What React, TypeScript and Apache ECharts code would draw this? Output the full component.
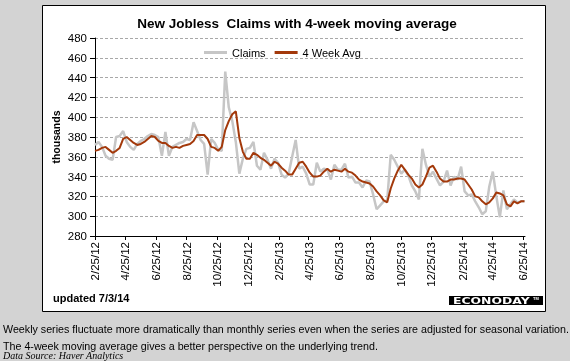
import React, { useEffect, useRef } from 'react';
import * as echarts from 'echarts';

// Weekly initial jobless claims (thousands), weeks ending 2/25/12 .. 6/28/14
const claims = [
  372, 375, 370, 361, 358, 357, 380, 381, 386, 375,
  370, 367, 373, 376, 378, 381, 383, 382, 380, 361,
  385, 361, 370, 372, 374, 375, 378, 377, 395, 386,
  377, 373, 342, 378, 374, 367, 366, 446, 410, 396,
  375, 343, 358, 368, 369, 375, 351, 347, 364, 357,
  348, 358, 354, 342, 339, 343, 360, 377, 348, 350,
  343, 332, 332, 354, 345, 348, 347, 337, 352, 347,
  347, 353, 339, 340, 334, 334, 329, 336, 335, 322,
  307, 311, 315, 316, 362, 357, 350, 343, 347, 341,
  331, 325, 317, 368, 352, 340, 345, 338, 331, 335,
  346, 331, 340, 337, 350, 325, 321, 322, 315, 309,
  302, 305, 330, 345, 320, 299, 326, 307, 312, 317,
  314, 315, 315,
];

// 4-week moving average (thousands), same weeks
const avg4 = [
  366, 367, 369, 370, 367, 364, 366, 369, 378, 380,
  377, 374, 372, 373, 375, 378, 381, 380, 376, 374,
  374, 371, 369, 370, 369, 371, 372, 373, 376, 382,
  382, 382, 378, 370, 369, 366, 370, 387, 396, 403,
  406, 379, 365, 358, 358, 364, 362, 359, 357, 354,
  351, 355, 353, 349, 346, 342, 342, 348, 354, 355,
  350, 344, 340, 340, 341, 345, 348, 345, 347, 346,
  345, 348, 345, 344, 341, 337, 335, 334, 333, 330,
  325, 321, 316, 314, 328, 338, 346, 352, 347, 342,
  338, 332, 329, 332, 340, 349, 351, 345, 338, 335,
  335, 337, 337, 338, 338, 337, 332, 327, 320, 319,
  315, 312, 314, 318, 324, 323, 321, 312, 310, 315,
  313, 315, 315,
];

const tickLabels = [
  '2/25/12', '4/25/12', '6/25/12', '8/25/12', '10/25/12', '12/25/12',
  '2/25/13', '4/25/13', '6/25/13', '8/25/13', '10/25/13', '12/25/13',
  '2/25/14', '4/25/14', '6/25/14',
];

const yTicks = { min: 280, max: 480, step: 20 };
const seriesNames = ['Claims', '4 Week Avg'];
const firstWeek = '2/25/12';
const axisEnd = '6/29/14';

const FONT = 'Liberation Sans, Arial, sans-serif';
const DAY = 86400000;

function parseMDY(s: string): number {
  const [m, d, y] = s.split('/').map(Number);
  return Date.UTC(2000 + y, m - 1, d) / DAY; // day number
}

export default function App() {
  const ref = useRef<HTMLDivElement>(null);

  useEffect(() => {
    if (!ref.current) return;
    const chart = echarts.init(ref.current, null, { renderer: 'svg' });

    const [sm, sd, sy] = firstWeek.split('/').map(Number);
    const weekDay = claims.map((_, i) => Date.UTC(2000 + sy, sm - 1, sd + 7 * i) / DAY);
    const tickDay = tickLabels.map(parseMDY);

    const option: any = {
      animation: false,
      backgroundColor: 'transparent',
      grid: {
        left: 95,
        right: 45,
        top: 38,
        bottom: 125,
        containLabel: false,
        outerBoundsMode: 'none',
      },
      legend: {
        data: seriesNames,
        left: 199,
        top: 42,
        icon: 'rect',
        itemWidth: 23,
        itemHeight: 3,
        itemGap: 9,
        textStyle: { fontFamily: FONT, fontSize: 11, color: '#000' },
      },
      xAxis: {
        type: 'value',
        min: parseMDY(firstWeek),
        max: parseMDY(axisEnd),
        axisLine: { show: true, onZero: false, lineStyle: { color: '#000', width: 1 } },
        axisTick: { show: true, length: 4, customValues: tickDay, lineStyle: { color: '#000' } },
        axisLabel: {
          customValues: tickDay,
          rotate: 90,
          margin: 6,
          color: '#000',
          fontFamily: FONT,
          fontSize: 11.5,
          showMinLabel: true,
          showMaxLabel: true,
          formatter: (v: number) => {
            const k = tickDay.findIndex((t) => Math.abs(t - v) < 0.01);
            return k >= 0 ? tickLabels[k] : '';
          },
        },
        splitLine: { show: false },
      },
      yAxis: {
        type: 'value',
        min: yTicks.min,
        max: yTicks.max,
        interval: yTicks.step,
        name: 'thousands',
        nameLocation: 'middle',
        nameGap: 34,
        nameMoveOverlap: false,
        nameTextStyle: { fontFamily: FONT, fontSize: 10.5, fontWeight: 'bold', color: '#000' },
        axisLine: { show: true, lineStyle: { color: '#000', width: 1 } },
        axisTick: { show: true, length: 5, lineStyle: { color: '#000' } },
        axisLabel: { color: '#000', fontFamily: FONT, fontSize: 11.5, margin: 8 },
        splitLine: { show: true, lineStyle: { color: '#a8a8a8', type: [3, 2], width: 1 } },
      },
      series: [
        {
          name: seriesNames[0],
          type: 'line',
          data: weekDay.map((t, i) => [t, claims[i]]),
          showSymbol: false,
          symbol: 'none',
          lineStyle: { color: '#c6c6c6', width: 2.5 },
          itemStyle: { color: '#c6c6c6' },
          z: 3,
        },
        {
          name: seriesNames[1],
          type: 'line',
          data: weekDay.map((t, i) => [t, avg4[i]]),
          showSymbol: false,
          symbol: 'none',
          lineStyle: { color: '#a3390b', width: 2 },
          itemStyle: { color: '#a3390b' },
          z: 4,
        },
      ],
      graphic: [
        { type: 'rect', z: -20, shape: { x: 0, y: 0, width: 570, height: 361 }, style: { fill: '#d3d3d3' } },
        {
          type: 'rect', z: -10,
          shape: { x: 42.5, y: 5.5, width: 503, height: 306 },
          style: { fill: '#ffffff', stroke: '#000', lineWidth: 1 },
        },
        {
          type: 'text', z: 10, x: 297, y: 23,
          style: {
            text: 'New Jobless  Claims with 4-week moving average',
            fill: '#000', font: `bold 13.5px ${FONT}`, align: 'center', verticalAlign: 'middle',
          },
        },
        {
          type: 'text', z: 10, x: 53, y: 298,
          style: { text: 'updated 7/3/14', fill: '#000', font: `bold 11px ${FONT}`, align: 'left', verticalAlign: 'middle' },
        },
        { type: 'rect', z: 10, shape: { x: 449, y: 296, width: 94, height: 9 }, style: { fill: '#000' } },
        {
          type: 'text', z: 11, x: 453, y: 300.7, scaleX: 1.55,
          style: { text: 'ECONODAY', fill: '#fff', font: `bold 8px DejaVu Sans, sans-serif`, align: 'left', verticalAlign: 'middle' },
        },
        {
          type: 'text', z: 11, x: 533, y: 298.5,
          style: { text: 'TM', fill: '#fff', font: `bold 4px ${FONT}`, align: 'left', verticalAlign: 'middle' },
        },
        {
          type: 'text', z: 10, x: 3, y: 329,
          style: {
            text: 'Weekly series fluctuate more dramatically than monthly series even when the series are adjusted for seasonal variation.',
            fill: '#000', font: `10.7px ${FONT}`, align: 'left', verticalAlign: 'middle',
          },
        },
        {
          type: 'text', z: 10, x: 3, y: 345.5,
          style: {
            text: 'The 4-week moving average gives a better perspective on the underlying trend.',
            fill: '#000', font: `10.7px ${FONT}`, align: 'left', verticalAlign: 'middle',
          },
        },
        {
          type: 'text', z: 10, x: 3, y: 355.5,
          style: {
            text: 'Data Source: Haver Analytics',
            fill: '#000', font: `italic 10px Liberation Serif, Times New Roman, serif`, align: 'left', verticalAlign: 'middle',
          },
        },
      ],
    };

    chart.setOption(option);
    return () => chart.dispose();
  }, []);

  return (
    <div
      ref={ref}
      style={{ position: 'fixed', left: 0, top: 0, width: 570, height: 361 }}
    />
  );
}
